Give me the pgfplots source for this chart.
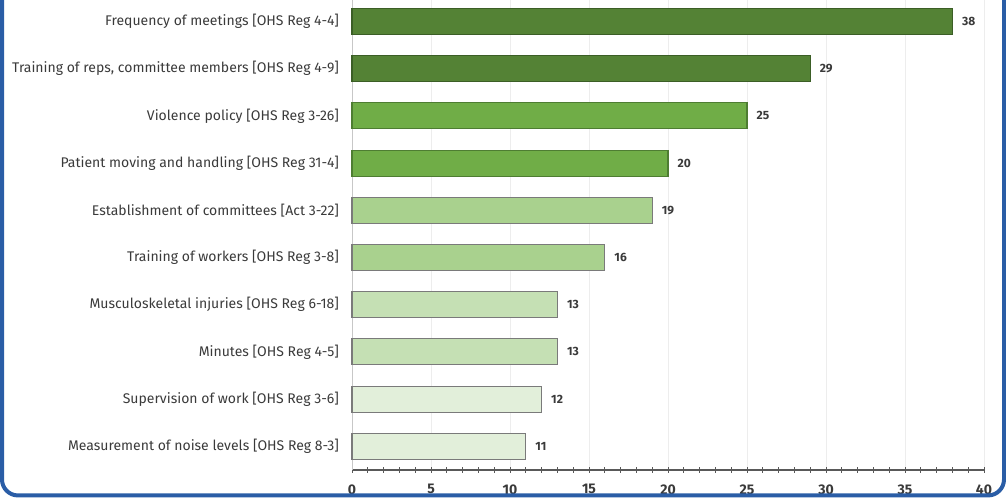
\documentclass[border=0pt]{standalone}
\usepackage{fontspec}
\setmainfont{Fira Sans}
\usepackage{pgfplots}
\pgfplotsset{compat=1.18}
\definecolor{gA}{HTML}{548235}
\definecolor{gAe}{HTML}{3B5E26}
\definecolor{gB}{HTML}{70AD47}
\definecolor{gBe}{HTML}{4E7D32}
\definecolor{gC}{HTML}{A9D18E}
\definecolor{gD}{HTML}{C5E0B4}
\definecolor{gE}{HTML}{E2EFDA}
\definecolor{edgegray}{HTML}{7A7A7A}
\definecolor{txt}{HTML}{3A3A3A}
\definecolor{border}{HTML}{2A5DA6}
\begin{document}
\begin{tikzpicture}
\begin{axis}[
  at={(264pt,21pt)}, anchor=south west,
  scale only axis, width=474pt, height=354.15pt,
  xmin=0, xmax=40, ymin=-0.5, ymax=9.5,
  xbar, bar width=0.55, bar shift=0pt,
  axis x line*=bottom, axis y line*=left,
  x axis line style={draw=black!65, line width=1pt, -},
  y axis line style={draw=black!22, line width=0.6pt, -},
  xtick={0,5,...,40}, minor x tick num=4,
  tick align=center,
  major tick length=4.5pt, minor tick length=4.5pt,
  x tick style={draw=black!65, line width=0.7pt},
  minor x tick style={draw=black!65, line width=0.7pt},
  xmajorgrids, major x grid style={draw=black!7, line width=0.6pt},
  ytick={0,...,9}, y tick style={draw=none},
  yticklabels={
    Measurement of noise levels [OHS Reg 8-3],
    Supervision of work [OHS Reg 3-6],
    Minutes [OHS Reg 4-5],
    Musculoskeletal injuries [OHS Reg 6-18],
    Training of workers [OHS Reg 3-8],
    Establishment of committees [Act 3-22],
    Patient moving and handling [OHS Reg 31-4],
    Violence policy [OHS Reg 3-26],
    {Training of reps, committee members [OHS Reg 4-9]},
    Frequency of meetings [OHS Reg 4-4]},
  yticklabel style={font=\fontsize{10.5}{12}\selectfont, text=txt, xshift=-4pt},
  xticklabel style={font=\bfseries\fontsize{10.5}{12}\selectfont, text=txt, yshift=-5pt},
  /pgf/number format/assume math mode=true,
  nodes near coords,
  nodes near coords style={font=\bfseries\fontsize{9}{10}\selectfont, text=txt, anchor=west, xshift=3.5pt},
  clip=false,
]
\addplot[fill=gA, draw=gAe, line width=0.8pt] coordinates {(38,9) (29,8)};
\addplot[fill=gB, draw=gBe, line width=0.8pt] coordinates {(25,7) (20,6)};
\addplot[fill=gC, draw=edgegray, line width=0.8pt] coordinates {(19,5) (16,4)};
\addplot[fill=gD, draw=edgegray, line width=0.8pt] coordinates {(13,3) (13,2)};
\addplot[fill=gE, draw=edgegray, line width=0.8pt] coordinates {(12,1) (11,0)};
\end{axis}
\pgfresetboundingbox
\useasboundingbox (0,0) rectangle (754.5pt,373.5pt);
\draw[border, line width=3pt, rounded corners=12pt] (1.5pt,420pt) -- (1.5pt,1.9pt) -- (753pt,1.9pt) -- (753pt,420pt);
\end{tikzpicture}
\end{document}
